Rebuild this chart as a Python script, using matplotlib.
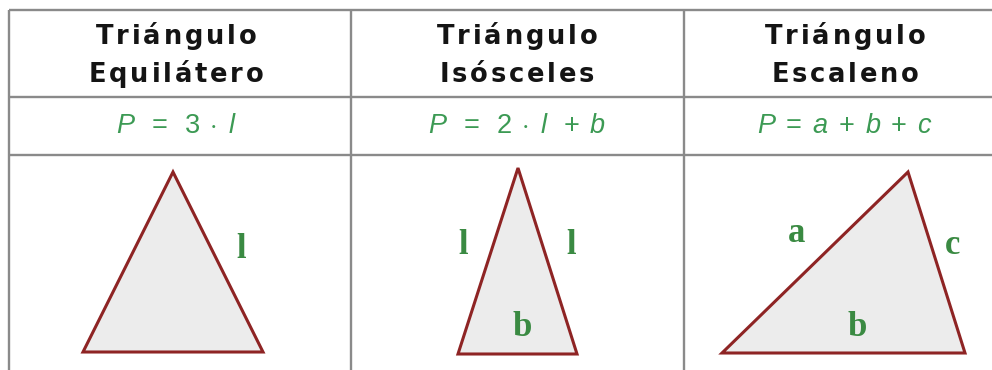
import matplotlib
matplotlib.use("Agg")
import matplotlib.pyplot as plt
from matplotlib.patches import Polygon
from matplotlib.font_manager import findfont, FontProperties
from matplotlib.ft2font import FT2Font, LoadFlags

# ---- data ----
headers = [("Triángulo", "Equilátero"), ("Triángulo", "Isósceles"), ("Triángulo", "Escaleno")]
formulas = [r"$P\;\;=\;\;3\;\cdot\;l$",
            r"$P\;\;=\;\;2\;\cdot\;l\;\;+\;b$",
            r"$P\;=\;a\;+\;b\;+\;c$"]
col_centers = [176, 517, 845]

tri_equilatero = [(173, 172), (83, 352), (263, 352)]
tri_isosceles = [(518, 168), (458, 354), (577, 354)]
tri_escaleno = [(908, 172), (722, 353), (965, 353)]
triangles = [tri_equilatero, tri_isosceles, tri_escaleno]

side_labels = ["l", "l", "l", "b", "a", "c", "b"]
side_label_pos = [(241, 249), (463, 246), (571, 246), (522, 327), (797, 234), (953, 245), (857, 328)]

h_lines_y = [10, 97, 155]
v_lines_x = [9, 351, 684]

# ---- style ----
plt.rcParams["mathtext.fontset"] = "custom"
plt.rcParams["mathtext.rm"] = "Liberation Sans"
plt.rcParams["mathtext.it"] = "Liberation Sans:italic"

DPI = 100
fig = plt.figure(figsize=(9.92, 3.70), dpi=DPI)
ax = fig.add_axes([0, 0, 1, 1])
ax.set_xlim(0, 992)
ax.set_ylim(370, 0)
ax.axis("off")

grid_color = "#8a8a8a"
for y in h_lines_y:
    ax.plot([v_lines_x[0], 992], [y, y], color=grid_color, lw=1.7, solid_capstyle="butt")
for x in v_lines_x:
    ax.plot([x, x], [h_lines_y[0], 370], color=grid_color, lw=1.7, solid_capstyle="butt")

# letter-spaced header text
HFS = 18.5
hprop = FontProperties(family="DejaVu Sans", weight="bold", size=HFS)
hfont = FT2Font(findfont(hprop))
hfont.set_size(HFS, DPI)


def advance(ch):
    g = hfont.load_char(ord(ch), flags=LoadFlags.NO_HINTING)
    return g.linearHoriAdvance / 65536.0


def spaced_text(cx, y, s, spacing):
    widths = [advance(c) for c in s]
    total = sum(widths) + spacing * (len(s) - 1)
    x = cx - total / 2
    for c, w in zip(s, widths):
        ax.text(x, y, c, ha="left", va="baseline", fontproperties=hprop, color="#141414")
        x += w + spacing


for (l1, l2), cx in zip(headers, col_centers):
    spaced_text(cx, 44, l1, 2.8)
    spaced_text(cx, 82, l2, 2.8)

for f, cx in zip(formulas, col_centers):
    ax.text(cx, 133, f, ha="center", va="baseline", fontsize=19.5, color="#3c9a54")

for verts in triangles:
    ax.add_patch(Polygon(verts, closed=True, facecolor="#ececec", edgecolor="#8e2424",
                         lw=2.2, joinstyle="miter"))

for lab, (x, y) in zip(side_labels, side_label_pos):
    ax.text(x, y, lab, ha="center", va="center", fontsize=25, family="Liberation Serif",
            fontweight="bold", color="#3a8a42")

fig.savefig("out.png", dpi=DPI, facecolor="white")
